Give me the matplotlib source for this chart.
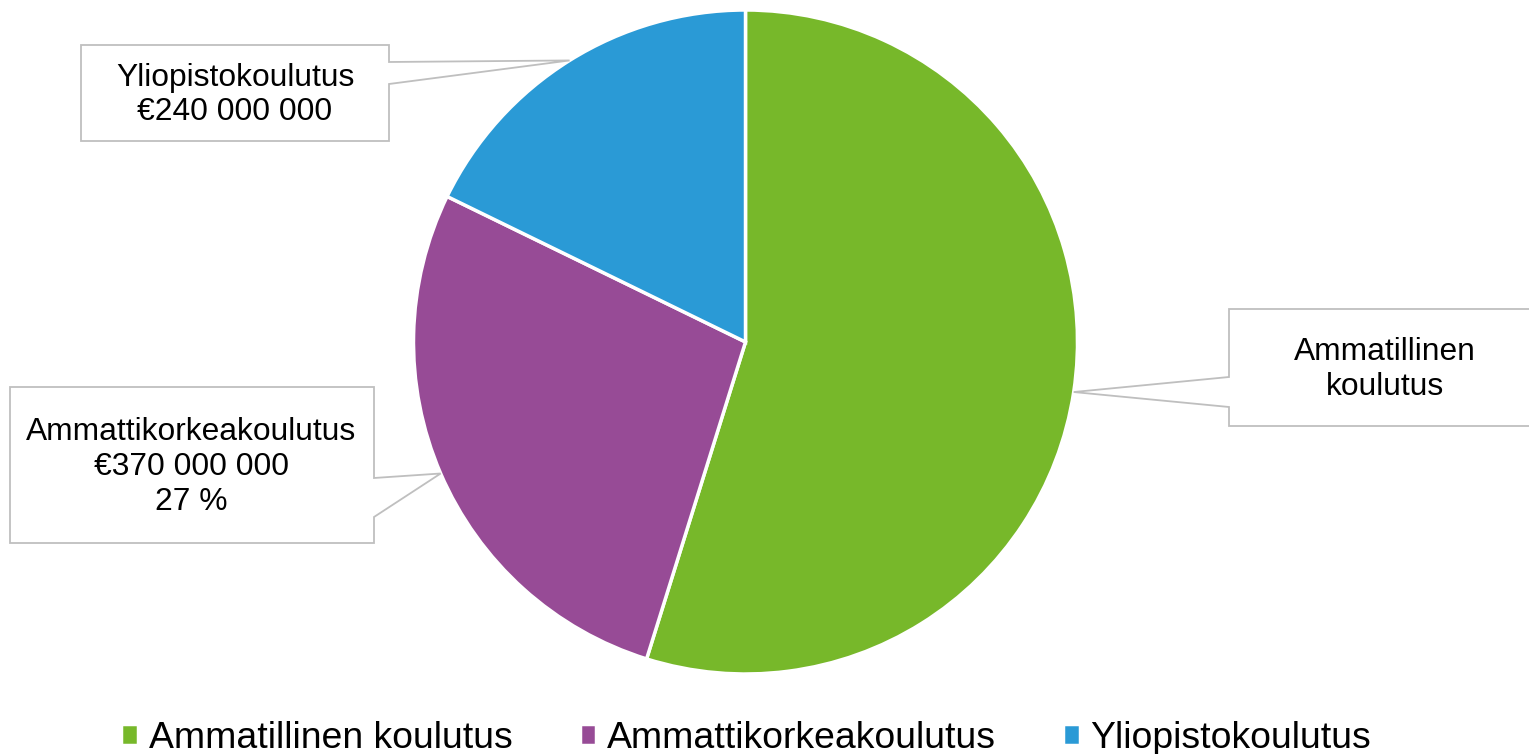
import numpy as np
import matplotlib
matplotlib.use("Agg")
import matplotlib.pyplot as plt
from matplotlib.patches import Polygon

plt.rcParams['font.family'] = ['Liberation Sans', 'DejaVu Sans']

# data
categories = ["Ammatillinen koulutus", "Ammattikorkeakoulutus", "Yliopistokoulutus"]
values = [740000000, 370000000, 240000000]
colors = ["#77B82A", "#974B96", "#2A9AD6"]

def euro(v):
    return "€" + f"{v:,}".replace(",", " ")

total = sum(values)
pct = [round(v / total * 100) for v in values]
labels = [
    "Ammatillinen\nkoulutus",
    f"Ammattikorkeakoulutus\n{euro(values[1])}\n{pct[1]} %",
    f"Yliopistokoulutus\n{euro(values[2])}",
]

W, H = 1529, 754
fig = plt.figure(figsize=(W / 100, H / 100), dpi=100)
ax = fig.add_axes([0, 0, 1, 1])

# pie in pixel coordinates (y up)
cx, cy, R = 745.5, H - 342, 332
wedges, _ = ax.pie(values, colors=colors, startangle=90, counterclock=False,
                   center=(cx, cy), radius=R,
                   wedgeprops=dict(edgecolor="white", linewidth=2.5))
ax.set_xlim(0, W)
ax.set_ylim(0, H)
ax.axis("off")

# callout boxes: (left, top, right, bottom) in px from top, leader base y's, side
boxes = [
    dict(box=(1229, 309, 1545, 426), base=(377, 407), side="left", tx=1385),
    dict(box=(10, 387, 374, 543), base=(478, 517), side="right", tx=191),
    dict(box=(81, 45, 389, 141), base=(62, 84), side="right", tx=235),
]

for w, b, lab in zip(wedges, boxes, labels):
    mid = np.deg2rad((w.theta1 + w.theta2) / 2)
    tip = (w.center[0] + w.r * np.cos(mid), w.center[1] + w.r * np.sin(mid))
    l, t, r, bt = b["box"]
    t, bt = H - t, H - bt
    y1, y2 = H - b["base"][0], H - b["base"][1]
    if b["side"] == "right":
        verts = [(l, t), (r, t), (r, y1), tip, (r, y2), (r, bt), (l, bt)]
    else:
        verts = [(l, t), (r, t), (r, bt), (l, bt), (l, y2), tip, (l, y1)]
    ax.add_patch(Polygon(verts, closed=True, facecolor="white",
                         edgecolor="#BFBFBF", linewidth=1.3, zorder=3))
    ax.text(b["tx"], (t + bt) / 2 - 2, lab, ha="center", va="center",
            fontsize=22.9, linespacing=1.2, color="black", zorder=4)

leg = fig.legend(wedges, categories, loc="lower center", ncol=3,
                 bbox_to_anchor=(0.488, -0.047), frameon=False, fontsize=26.9,
                 handlelength=0.45, handleheight=0.45, handletextpad=0.28,
                 columnspacing=1.8)

fig.savefig("out.png", dpi=100)
